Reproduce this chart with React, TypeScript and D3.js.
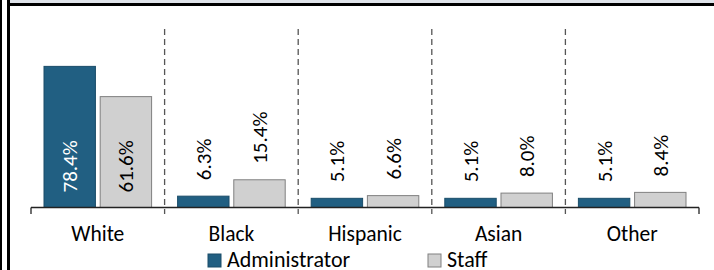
import { useEffect, useRef } from "react";
import * as d3 from "d3";

const categories = ["White", "Black", "Hispanic", "Asian", "Other"];
const seriesNames = ["Administrator", "Staff"];
const adminValues = [78.4, 6.3, 5.1, 5.1, 5.1];
const staffValues = [61.6, 15.4, 6.6, 8.0, 8.4];

const colors: Record<string, string> = { Administrator: "#215f82", Staff: "#d0d0d0" };
const strokes: Record<string, string> = { Administrator: "#1a4d69", Staff: "#808080" };
const FONT = "Carlito, Lato, 'Open Sans', sans-serif";

export default function App() {
  const ref = useRef<SVGSVGElement | null>(null);

  useEffect(() => {
    if (!ref.current) return;
    const svg = d3.select(ref.current);
    svg.selectAll("*").remove();

    // frame bits
    svg.append("rect").attr("width", 714).attr("height", 270).attr("fill", "#fff");
    svg.append("rect").attr("x", 10).attr("width", 704).attr("height", 3).attr("fill", "#dfe3ea");
    svg.append("rect").attr("x", 7).attr("y", 3).attr("width", 707).attr("height", 3).attr("fill", "#000");
    svg.append("rect").attr("x", 0).attr("width", 2).attr("height", 270).attr("fill", "#000");
    svg.append("rect").attr("x", 7).attr("width", 3).attr("height", 270).attr("fill", "#000");

    const base = 207.5;
    const x = d3.scaleBand(categories, [31, 699]);
    const y = d3.scaleLinear([0, 100], [base, 27.5]);
    const pad = 13;
    const xs = d3.scaleBand(seriesNames, [pad, x.bandwidth() - pad]).paddingInner(0.085);

    const rows = categories.map((c, i) => ({
      cat: c,
      vals: [
        { s: "Administrator", v: adminValues[i] },
        { s: "Staff", v: staffValues[i] },
      ],
    }));

    // dividers
    svg
      .append("g")
      .selectAll("line")
      .data(categories.slice(1))
      .join("line")
      .attr("x1", (d) => x(d)!)
      .attr("x2", (d) => x(d)!)
      .attr("y1", 29)
      .attr("y2", 214)
      .attr("stroke", "#555")
      .attr("stroke-width", 1.3)
      .attr("stroke-dasharray", "6,4");

    const g = svg
      .append("g")
      .selectAll("g")
      .data(rows)
      .join("g")
      .attr("transform", (d) => `translate(${x(d.cat)},0)`);

    g.selectAll("rect")
      .data((d) => d.vals)
      .join("rect")
      .attr("x", (d) => xs(d.s)!)
      .attr("width", xs.bandwidth())
      .attr("y", (d) => y(d.v))
      .attr("height", (d) => base - y(d.v))
      .attr("fill", (d) => colors[d.s])
      .attr("stroke", (d) => strokes[d.s])
      .attr("stroke-width", 1);

    g.selectAll("text")
      .data((d) => d.vals)
      .join("text")
      .attr("transform", (d) => {
        const cx = xs(d.s)! + xs.bandwidth() / 2 + 7.5;
        const ty = d.v > 50 ? base - 15 : y(d.v) - 16;
        return `translate(${cx},${ty}) rotate(-90)`;
      })
      .attr("font-family", FONT)
      .attr("font-size", 21)
      .attr("fill", (d) => (d.v > 50 && d.s === "Administrator" ? "#fff" : "#000"))
      .text((d) => `${d.v.toFixed(1)}%`);

    // axis baseline + end ticks
    const ax = svg.append("g");
    ax.append("line")
      .attr("x1", 31)
      .attr("x2", 699)
      .attr("y1", base)
      .attr("y2", base)
      .attr("stroke", "#222")
      .attr("stroke-width", 1.5);
    ax.selectAll("line.t")
      .data([31, 699])
      .join("line")
      .attr("class", "t")
      .attr("x1", (d) => d)
      .attr("x2", (d) => d)
      .attr("y1", base)
      .attr("y2", 214)
      .attr("stroke", "#222")
      .attr("stroke-width", 1.3);
    ax.selectAll("text")
      .data(categories)
      .join("text")
      .attr("x", (d) => x(d)! + x.bandwidth() / 2)
      .attr("y", 241)
      .attr("text-anchor", "middle")
      .attr("font-family", FONT)
      .attr("font-size", 21.5)
      .text((d) => d);

    // legend
    const legX = [208, 428];
    const leg = svg
      .append("g")
      .selectAll("g")
      .data(seriesNames)
      .join("g")
      .attr("transform", (_d, i) => `translate(${legX[i]},254)`);
    leg.append("rect")
      .attr("width", 13)
      .attr("height", 13)
      .attr("fill", (d) => colors[d])
      .attr("stroke", (d) => strokes[d]);
    leg.append("text")
      .attr("x", 19)
      .attr("y", 13)
      .attr("font-family", FONT)
      .attr("font-size", 22)
      .text((d) => d);
  }, []);

  return (
    <svg
      ref={ref}
      width={714}
      height={270}
      style={{ position: "absolute", left: 0, top: 0 }}
    />
  );
}
